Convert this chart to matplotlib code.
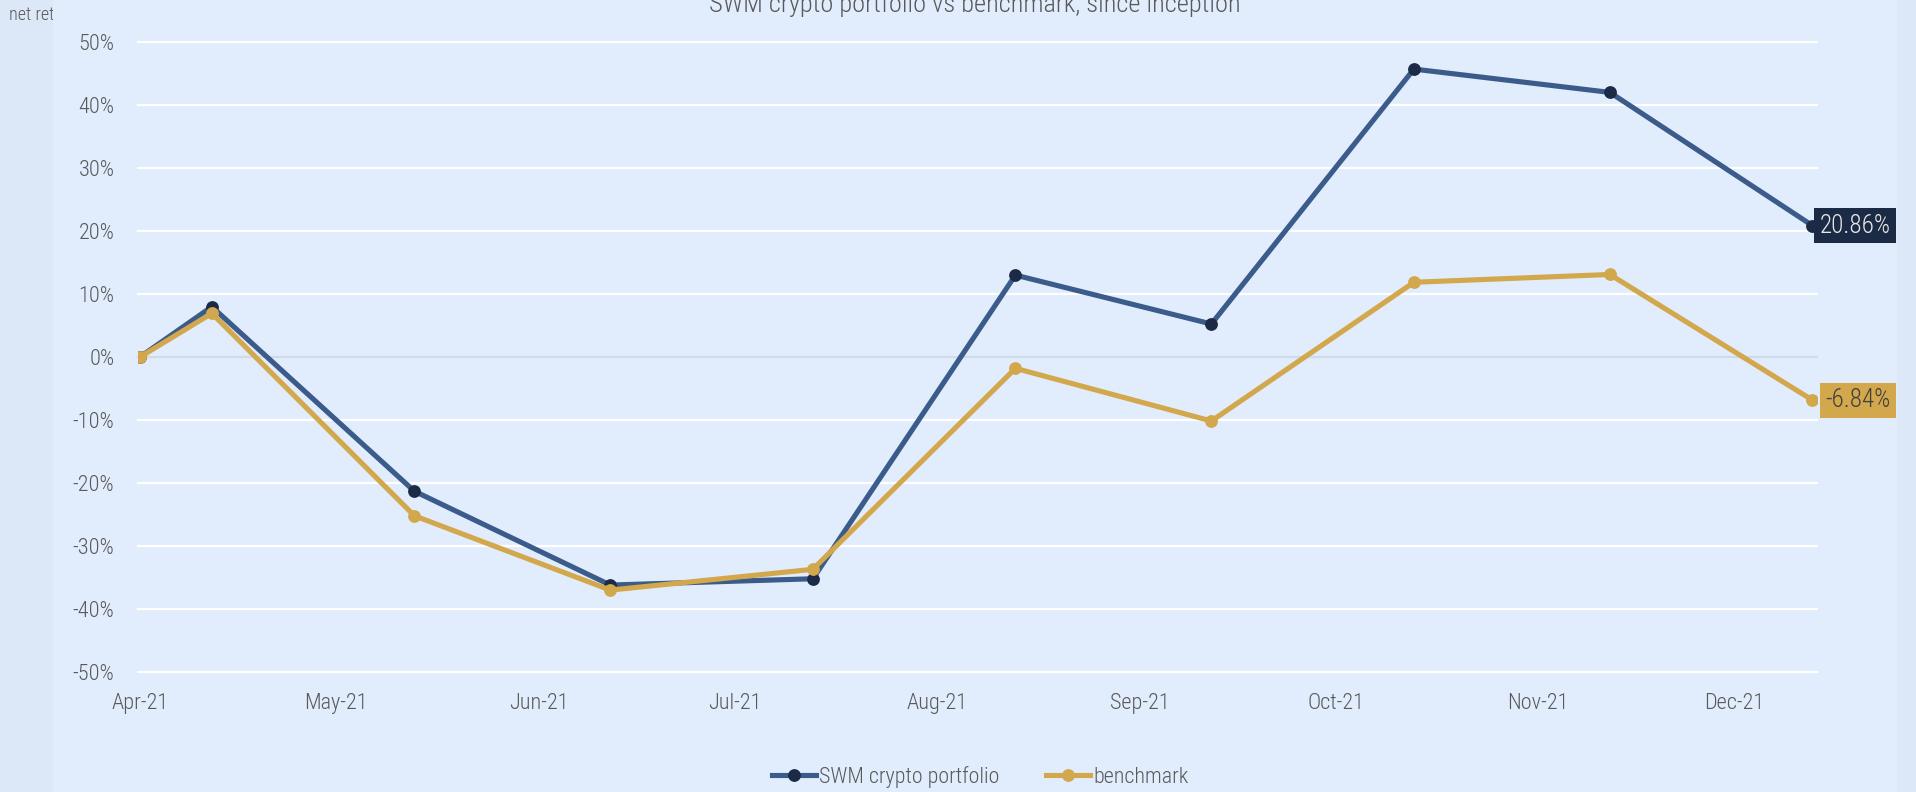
import matplotlib
matplotlib.use("Agg")
import matplotlib.pyplot as plt
import matplotlib.dates as mdates
from matplotlib import font_manager
from matplotlib.font_manager import FontProperties
from matplotlib.patches import Rectangle
from matplotlib.transforms import Bbox, TransformedBbox
from matplotlib.lines import Line2D
import pandas as pd

# ---- data -------------------------------------------------------------
dates = ["2021-04-01", "2021-04-12", "2021-05-13", "2021-06-12", "2021-07-13",
         "2021-08-13", "2021-09-12", "2021-10-13", "2021-11-12", "2021-12-13"]
portfolio = [0.0, 7.98, -21.3, -36.2, -35.2, 13.0, 5.24, 45.7, 42.0, 20.86]
benchmark = [0.0, 6.93, -25.2, -37.0, -33.7, -1.8, -10.16, 11.86, 13.1, -6.84]
series_names = ["SWM crypto portfolio", "benchmark"]
month_ticks = ["2021-04-01", "2021-05-01", "2021-06-01", "2021-07-01", "2021-08-01",
               "2021-09-01", "2021-10-01", "2021-11-01", "2021-12-01"]
y_ticks = [-50, -40, -30, -20, -10, 0, 10, 20, 30, 40, 50]
title = "SWM crypto portfolio vs benchmark, since inception"
y_title = "net return"


# ---- font: prefer a narrow sans face ---------------------------------
def pick_font_file():
    entries = font_manager.fontManager.ttflist
    narrow = ("condensed", "semi-condensed", "extra-condensed", "ultra-condensed")

    def ok_weight(e):
        w = e.weight
        if isinstance(w, str):
            return w in ("normal", "regular", "light", "book")
        return 300 <= w <= 400

    prefs = ["Liberation Sans Narrow", "Roboto Condensed", "Open Sans Condensed",
             "Noto Sans", "Open Sans", "Roboto", "DejaVu Sans"]
    for fam in prefs:
        cands = [e for e in entries if e.name == fam and e.style == "normal" and ok_weight(e)
                 and (e.stretch in narrow or "Narrow" in fam or "Condensed" in fam)]
        if cands:
            cands.sort(key=lambda e: (0 if (isinstance(e.weight, int) and e.weight == 300) else 1))
            return cands[0].fname
    return font_manager.findfont("DejaVu Sans")


FONT_FILE = pick_font_file()

TEXT = "#595959"
BLUE = "#3B5B8A"
NAVY = "#1C2B45"
GOLD = "#D3A74B"
BG = "#E1EDFD"
STRIP = "#DCE7F7"

W, H, DPI = 1916, 792, 100
fig = plt.figure(figsize=(W / DPI, H / DPI), dpi=DPI)
fig.patch.set_facecolor(STRIP)
renderer = fig.canvas.get_renderer()


def fitted(text, target_px, nominal_pt):
    """Font size whose rendered width of `text` is close to target_px."""
    fp = FontProperties(fname=FONT_FILE, size=nominal_pt)
    w, _, _ = renderer.get_text_width_height_descent(text, fp, ismath=False)
    size = nominal_pt * target_px / w
    size = max(0.78 * nominal_pt, min(1.1 * nominal_pt, size))
    return FontProperties(fname=FONT_FILE, size=size)


fp_tick = fitted("May-21", 64, 17)
fp_leg = fitted(series_names[0], 181, 17)
fp_title = fitted(title, 531, 20)
fp_lab = fitted("20.86%", 71, 18)
fp_small = fitted("net ret", 45, 13)

# chart area background
fig.patches.append(Rectangle((53 / W, 0), (1897 - 53) / W, 1, transform=fig.transFigure,
                             facecolor=BG, edgecolor="none", zorder=-5))

ax = fig.add_axes([138 / W, 1 - 672 / H, (1817 - 138) / W, (672 - 42) / H])
ax.set_facecolor("none")
ax.set_zorder(2)
for s in ax.spines.values():
    s.set_visible(False)

x = mdates.date2num(pd.to_datetime(dates))
xt = pd.to_datetime(month_ticks)
ax.set_xlim(x[0] - 0.3, x[-1] + 0.7)
ax.set_ylim(-50, 50)

# gridlines
for v in y_ticks:
    ax.axhline(v, color="#D0DBEA" if v == 0 else "white", lw=1.6, zorder=1, clip_on=False)

ax.set_yticks(y_ticks)
ax.set_yticklabels([f"{v}%" for v in y_ticks])
ax.set_xticks(mdates.date2num(xt))
ax.set_xticklabels([d.strftime("%b-%y") for d in xt])
ax.tick_params(axis="both", length=0, labelcolor=TEXT)
ax.tick_params(axis="y", pad=17)
ax.tick_params(axis="x", pad=15)
for lbl in ax.get_xticklabels() + ax.get_yticklabels():
    lbl.set_fontproperties(fp_tick)

ax.plot(x, portfolio, color=BLUE, lw=3.7, marker="o", ms=8.2,
        mfc=NAVY, mec=NAVY, zorder=3, solid_capstyle="round")
ax.plot(x, benchmark, color=GOLD, lw=3.7, marker="o", ms=8.2,
        mfc=GOLD, mec=GOLD, zorder=4, solid_capstyle="round")

# end-of-series value labels
ax.annotate(f"{portfolio[-1]:.2f}%", xy=(x[-1], portfolio[-1]), xytext=(78, 0),
            textcoords="offset pixels", ha="right", va="center", fontproperties=fp_lab,
            color="#E8E8E8", annotation_clip=False, zorder=6,
            bbox=dict(boxstyle="square,pad=0.22", fc=NAVY, ec="none"))
ax.annotate(f"{benchmark[-1]:.2f}%", xy=(x[-1], benchmark[-1]), xytext=(78, 0),
            textcoords="offset pixels", ha="right", va="center", fontproperties=fp_lab,
            color="#404040", annotation_clip=False, zorder=6,
            bbox=dict(boxstyle="square,pad=0.22", fc=GOLD, ec="none"))

# title, cut off by the top edge
fig.text(975 / W, 1 - 12 / H, title, ha="center", va="baseline",
         fontproperties=fp_title, color=TEXT)

# axis title, clipped to the left margin strip
t = fig.text(9 / W, 1 - 15 / H, y_title, ha="left", va="center",
             fontproperties=fp_small, color=TEXT)
t.set_clip_box(TransformedBbox(Bbox([[0, 0], [53 / W, 1]]), fig.transFigure))
t.set_clip_on(True)

# legend: handle ~44 px, small gap to text, wide gap between entries
leg_px = fp_leg.get_size_in_points() * DPI / 72.0
handles = [Line2D([], [], color=BLUE, lw=3.7, marker="o", ms=8.2, mfc=NAVY, mec=NAVY),
           Line2D([], [], color=GOLD, lw=3.7, marker="o", ms=8.2, mfc=GOLD, mec=GOLD)]
fig.legend(handles, series_names, loc="center", bbox_to_anchor=(980 / W, 1 - 777 / H),
           ncol=2, frameon=False, prop=fp_leg, handlelength=44 / leg_px,
           handletextpad=3 / leg_px, columnspacing=47 / leg_px, borderpad=0,
           labelcolor=TEXT)

fig.savefig("out.png", dpi=DPI, facecolor=fig.get_facecolor())
